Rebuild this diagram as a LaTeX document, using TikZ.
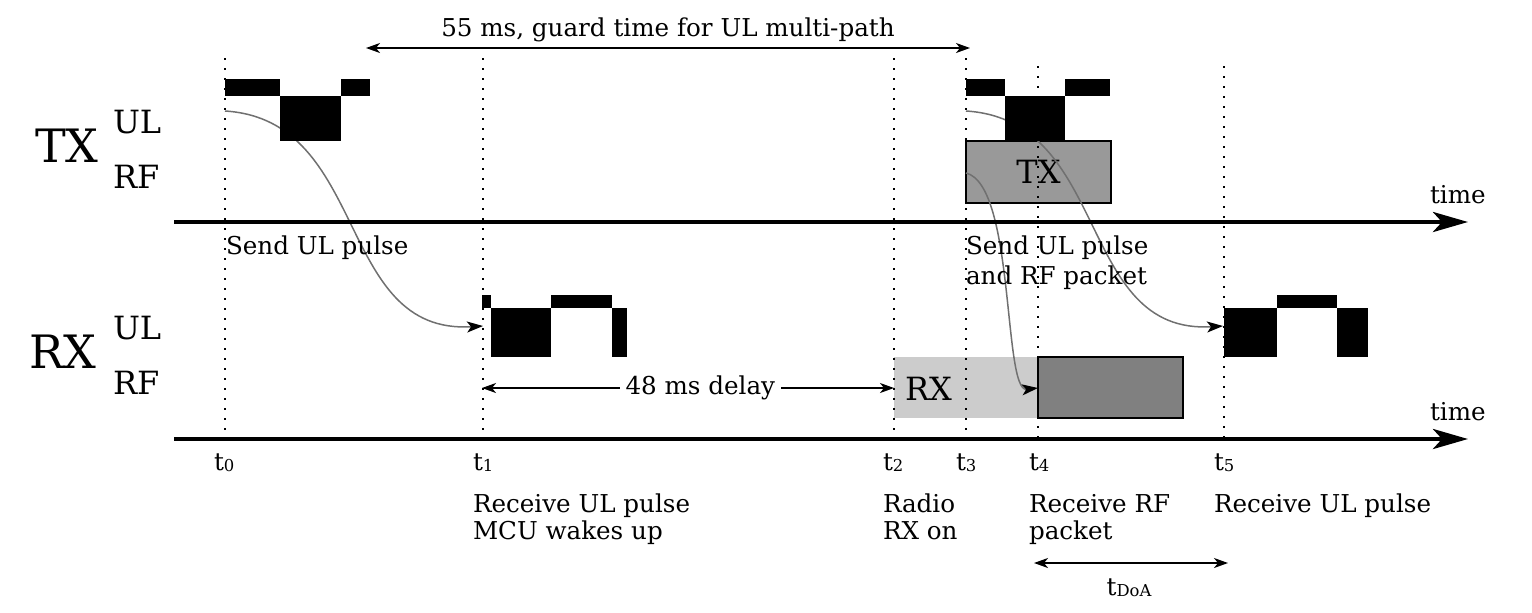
\documentclass[tikz,border=0pt]{standalone}
\usepackage{fontspec}
\setmainfont{DejaVu Serif}
\usetikzlibrary{arrows.meta}
\definecolor{txgray}{HTML}{999999}
\definecolor{rxlight}{HTML}{CCCCCC}
\definecolor{rxdark}{HTML}{808080}
\definecolor{curvegray}{HTML}{707070}
\newcommand{\tsub}[1]{t\raisebox{-0.6pt}{\fontsize{8.2}{8.2}\selectfont #1}}
\begin{document}
\begin{tikzpicture}[x=0.5pt,y=-0.5pt,
  lbl/.style={inner sep=0pt,outer sep=0pt,anchor=base west,font=\fontsize{12.3}{14}\selectfont},
  bigl/.style={inner sep=0pt,outer sep=0pt,anchor=base west,font=\fontsize{23}{27}\selectfont},
  midl/.style={inner sep=0pt,outer sep=0pt,anchor=base west,font=\fontsize{16}{19}\selectfont},
  tick/.style={line width=0.8pt,dash pattern=on 0.8pt off 4.2pt},
  axisline/.style={line width=2.2pt,-{Stealth[length=17.5pt,width=10pt,inset=4.5pt]}},
  sig/.style={draw=curvegray,line width=0.75pt,-{Stealth[length=8pt,width=5.5pt,inset=2pt,color=black]}},
  dimarrow/.style={line width=0.8pt,{Stealth[length=7pt,width=5pt,inset=2pt]}-{Stealth[length=7pt,width=5pt,inset=2pt]}},
  pulse/.style={fill=black},
  boxn/.style={anchor=north west,inner sep=0pt,outer sep=0pt,font=\fontsize{16}{19}\selectfont}
]
\useasboundingbox (0,0) rectangle (1532,612);

% ---- boxes ----
\node[boxn,fill=rxlight,minimum width=72pt,minimum height=30.5pt] (rxwin) at (894,357) {};
\node[boxn,fill=txgray,draw=black,line width=1pt,minimum width=72.5pt,minimum height=31pt] (txbox) at (966,141) {TX};
\node[boxn,fill=rxdark,draw=black,line width=1pt,minimum width=72.5pt,minimum height=30.5pt] (rxpkt) at (1038,357) {};
\node[midl] (rxlbl) at (905,400) {RX};

% ---- signal curves ----
\coordinate (c1s) at (225,111);
\coordinate (c1e) at (483,326);
\coordinate (c2s) at (966,111);
\coordinate (c2e) at (1223,326);
\coordinate (c3s) at (966,173);
\coordinate (c3e) at (1038,388);
\draw[sig] (c1s) .. controls (370,120) and (335,335) .. (c1e);
\draw[sig] (c2s) .. controls (1111,120) and (1076,335) .. (c2e);
\draw[sig] (c3s) .. controls (1015,185) and (1003,392) .. (c3e);

% ---- TX UL pulses ----
\fill[pulse] (225,79) rectangle (280,96);
\fill[pulse] (280,96) rectangle (341,141);
\fill[pulse] (341,79) rectangle (370,96);
\fill[pulse] (966,79) rectangle (1005,96);
\fill[pulse] (1005,96) rectangle (1065,141);
\fill[pulse] (1065,79) rectangle (1110,96);

% ---- RX UL pulses ----
\fill[pulse] (482,295) rectangle (491,308);
\fill[pulse] (491,308) rectangle (551,357);
\fill[pulse] (551,295) rectangle (612,308);
\fill[pulse] (612,308) rectangle (627,357);
\fill[pulse] (1224,308) rectangle (1277,357);
\fill[pulse] (1277,295) rectangle (1337,308);
\fill[pulse] (1337,308) rectangle (1368,357);

% ---- dotted time markers ----
\foreach \n/\x/\yt in {0/225/58,1/483/58,2/894/58,3/966/58,4/1038/66,5/1224/66}{
  \coordinate (t\n top) at (\x,\yt);
  \coordinate (t\n bot) at (\x,439);
  \draw[tick] (t\n top) -- (t\n bot);
}

% ---- axes ----
\coordinate (txa0) at (174,222);
\coordinate (txa1) at (1468,222);
\coordinate (rxa0) at (174,439);
\coordinate (rxa1) at (1468,439);
\draw[axisline] (txa0) -- (txa1);
\draw[axisline] (rxa0) -- (rxa1);
\node[lbl] (timetx) at (1430,203) {time};
\node[lbl] (timerx) at (1430,420) {time};

% ---- left labels ----
\node[bigl] (txbig) at (35,162) {TX};
\node[midl] (txul) at (113,133) {UL};
\node[midl] (txrf) at (113,188) {RF};
\node[bigl] (rxbig) at (29,368) {RX};
\node[midl] (rxul) at (113,339) {UL};
\node[midl] (rxrf) at (113,394) {RF};

% ---- guard time arrow ----
\coordinate (g0) at (366,48);
\coordinate (g1) at (970,48);
\draw[dimarrow] (g0) -- (g1);
\node[lbl,anchor=base] (guard) at (668,36) {55 ms, guard time for UL multi-path};

% ---- delay arrow ----
\coordinate (d0) at (482,388);
\coordinate (d1) at (894,388);
\draw[dimarrow] (d0) -- node[pos=0.53,fill=white,inner xsep=3pt,inner ysep=1pt,font=\fontsize{12.3}{14}\selectfont] (delay) {48 ms delay} (d1);

% ---- TX texts ----
\node[lbl] (send1) at (226,254) {Send UL pulse};
\node[lbl] (send2a) at (966,254) {Send UL pulse};
\node[lbl] (send2b) at (966,284) {and RF packet};

% ---- time labels ----
\node[lbl] (lt0) at (214,470) {\tsub{0}};
\node[lbl] (lt1) at (473,470) {\tsub{1}};
\node[lbl] (lt2) at (883,470) {\tsub{2}};
\node[lbl] (lt3) at (956,470) {\tsub{3}};
\node[lbl] (lt4) at (1029,470) {\tsub{4}};
\node[lbl] (lt5) at (1214,470) {\tsub{5}};

% ---- event texts ----
\node[lbl] (e1a) at (473,512) {Receive UL pulse};
\node[lbl] (e1b) at (473,539) {MCU wakes up};
\node[lbl] (e2a) at (883,512) {Radio};
\node[lbl] (e2b) at (883,539) {RX on};
\node[lbl] (e4a) at (1029,512) {Receive RF};
\node[lbl] (e4b) at (1029,539) {packet};
\node[lbl] (e5a) at (1214,512) {Receive UL pulse};

% ---- t_DoA arrow ----
\coordinate (a0) at (1034,563);
\coordinate (a1) at (1228,563);
\draw[dimarrow] (a0) -- (a1);
\node[lbl,anchor=base] (tdoa) at (1129,595) {\tsub{DoA}};
\end{tikzpicture}
\end{document}
